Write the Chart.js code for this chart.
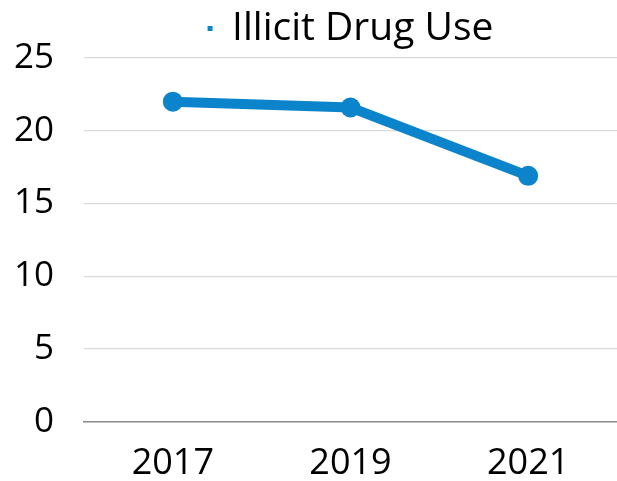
<!DOCTYPE html>
<html>
<head>
<meta charset="utf-8">
<script src="https://cdn.jsdelivr.net/npm/chart.js@4"></script>
<style>
  html, body { margin: 0; padding: 0; background: #fff; overflow: hidden; }
  #wrap { width: 617px; height: 481px; }
  canvas { display: block; }
</style>
</head>
<body>
<div id="wrap"><canvas id="chart" width="617" height="481"></canvas></div>
<script>
// chart data
const years = ['2017', '2019', '2021'];
const drugUse = [22.0, 21.6, 16.9];
const yTicks = [0, 5, 10, 15, 20, 25];
const seriesName = 'Illicit Drug Use';

const blue = '#0B84CC';
const font = '"Open Sans", "Noto Sans", sans-serif';

const ctx = document.getElementById('chart').getContext('2d');
new Chart(ctx, {
  type: 'line',
  data: {
    labels: years,
    datasets: [{
      label: seriesName,
      data: drugUse,
      borderColor: blue,
      backgroundColor: blue,
      borderWidth: 10,
      pointRadius: 10,
      pointHoverRadius: 10,
      pointBackgroundColor: blue,
      pointBorderWidth: 0,
      tension: 0
    }]
  },
  options: {
    responsive: false,
    animation: false,
    layout: { autoPadding: false, padding: { left: 14, right: 0, top: 1, bottom: 0 } },
    plugins: {
      legend: {
        fullSize: false, // centre over the plot area like the original
        labels: {
          color: '#000',
          boxWidth: 5,
          boxHeight: 5,
          padding: 8,
          font: { family: font, size: 39 },
          // drop the thick dataset border from the small legend square
          generateLabels: chart => Chart.defaults.plugins.legend.labels.generateLabels(chart)
            .map(item => Object.assign(item, { lineWidth: 0 }))
        }
      },
      tooltip: { enabled: false }
    },
    scales: {
      x: {
        offset: true,
        grid: { display: false, drawTicks: false },
        border: { display: true, color: '#8c8c8c', width: 1.5 },
        ticks: { color: '#000', padding: 25, font: { family: font, size: 36, lineHeight: 0.95 } },
        // tick padding gets counted twice in the axis size, take one back
        afterFit: s => {
          s.paddingLeft = 0;
          s.paddingRight = 0;
          s.height -= s.options.ticks.padding;
        }
      },
      y: {
        min: yTicks[0],
        max: yTicks[yTicks.length - 1],
        afterBuildTicks: axis => { axis.ticks = yTicks.map(v => ({ value: v })); },
        grid: { color: '#d9d9d9', lineWidth: 1.2, drawTicks: false },
        border: { display: false },
        ticks: { color: '#000', padding: 30, font: { family: font, size: 35 } },
        afterFit: s => {
          s.paddingTop = 0;
          s.paddingBottom = 0;
          s.width -= s.options.ticks.padding;
        }
      }
    }
  }
});
</script>
</body>
</html>
